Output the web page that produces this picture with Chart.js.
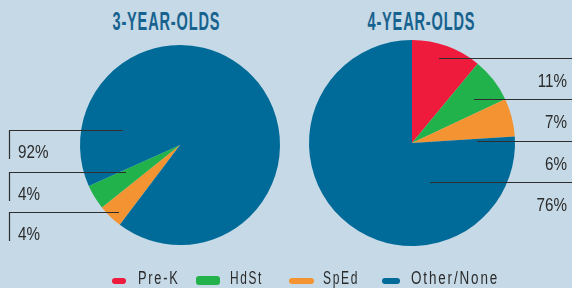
<!DOCTYPE html>
<html>
<head>
<meta charset="utf-8">
<script src="https://cdn.jsdelivr.net/npm/chart.js@4/dist/chart.umd.min.js"></script>
<style>
  html, body { margin: 0; padding: 0; }
  body { width: 572px; height: 288px; background: #c5d9e6; position: relative; overflow: hidden; }
  canvas { position: absolute; left: 0; top: 0; }
  .title { position: absolute; top: 6px; font-family: "Liberation Sans", Arial, sans-serif; font-weight: bold; font-size: 26px; line-height: 30px; color: #17628f; letter-spacing: 1.5px; white-space: nowrap; transform-origin: 50% 50%; }
  .leg { position: absolute; top: 267px; font-family: "Liberation Sans", Arial, sans-serif; font-size: 18px; color: #2b2b2b; letter-spacing: 2.5px; white-space: nowrap; line-height: 22px; transform-origin: 0 50%; }
  .sw { position: absolute; height: 6px; border-radius: 3px; top: 278px; }
</style>
</head>
<body>
<div class="title" id="t1"></div>
<div class="title" id="t2"></div>
<canvas id="c1" width="572" height="288"></canvas>
<canvas id="c2" width="572" height="288"></canvas>
<div id="legend"></div>
<script>
// ---- data ----
const categories = ["Pre-K", "HdSt", "SpEd", "Other/None"];
const values3 = [0, 4, 4, 92];
const values4 = [11, 7, 6, 76];
const titles = ["3-YEAR-OLDS", "4-YEAR-OLDS"];
const colors = ["#ee1b3d", "#22b24c", "#f39331", "#006a98"];

// ---- layout (not data) ----
function fit(el, targetW, centerX, leftX) {
  const w = el.offsetWidth;
  const s = targetW / w;
  if (centerX !== undefined) el.style.left = (centerX - w / 2) + 'px';
  if (leftX !== undefined) el.style.left = leftX + 'px';
  el.style.transform = 'scaleX(' + s + ')';
}
const t1 = document.getElementById('t1'), t2 = document.getElementById('t2');
t1.textContent = titles[0];
t2.textContent = titles[1];
fit(t1, 108, 166.5);
fit(t2, 108, 421.5);

// left pie draws slices in a different clockwise order
const order3 = [2, 1, 3, 0];
const order4 = [0, 1, 2, 3];

const labelLayout3 = { // by category index
  3: { y: 130, x: 123 },
  1: { y: 172, x: 126 },
  2: { y: 212, x: 119 }
};
const labelLayout4 = {
  0: { y: 58, x: 439 },
  1: { y: 99, x: 474 },
  2: { y: 141, x: 477 },
  3: { y: 182, x: 430 }
};

function labelPlugin(side, layout, values) {
  return {
    id: 'leaders' + side,
    afterDraw(chart) {
      const ctx = chart.ctx;
      ctx.save();
      ctx.strokeStyle = '#2e2e2e';
      ctx.lineWidth = 1.2;
      ctx.fillStyle = '#2b2b2b';
      ctx.font = '19px "Liberation Sans", Arial, sans-serif';
      ctx.textBaseline = 'alphabetic';
      const sx = 0.8;
      Object.keys(layout).forEach(k => {
        const L = layout[k];
        const txt = values[k] + '%';
        ctx.beginPath();
        if (side === 'left') {
          ctx.moveTo(L.x, L.y + 0.5);
          ctx.lineTo(9.5, L.y + 0.5);
          ctx.lineTo(9.5, L.y + 29);
          ctx.stroke();
          ctx.save();
          ctx.translate(18, L.y + 28);
          ctx.scale(sx, 1);
          ctx.textAlign = 'left';
          ctx.fillText(txt, 0, 0);
          ctx.restore();
        } else {
          ctx.moveTo(L.x, L.y + 0.5);
          ctx.lineTo(572, L.y + 0.5);
          ctx.stroke();
          ctx.save();
          ctx.translate(567, L.y + 29);
          ctx.scale(sx, 1);
          ctx.textAlign = 'right';
          ctx.fillText(txt, 0, 0);
          ctx.restore();
        }
      });
      ctx.restore();
    }
  };
}

function makePie(id, values, order, rotation, padding, plugin) {
  return new Chart(document.getElementById(id), {
    type: 'pie',
    data: {
      labels: order.map(i => categories[i]),
      datasets: [{
        data: order.map(i => values[i]),
        backgroundColor: order.map(i => colors[i]),
        borderWidth: 0
      }]
    },
    options: {
      responsive: false,
      devicePixelRatio: 1,
      animation: false,
      rotation: rotation,
      layout: { padding: padding },
      plugins: { legend: { display: false }, tooltip: { enabled: false }, title: { display: false } }
    },
    plugins: [plugin]
  });
}

makePie('c1', values3, order3, 217, { left: 80, right: 292, top: 45, bottom: 43 }, labelPlugin('left', labelLayout3, values3));
makePie('c2', values4, order4, 0, { left: 309, right: 57, top: 40, bottom: 42 }, labelPlugin('right', labelLayout4, values4));

// ---- legend ----
const legSwatchX = [112, 196, 289, 382];
const legSwatchW = [14, 24, 25, 18];
const legTextX = [138, 230, 323, 411];
const legTextW = [42, 33, 36, 88];
const legend = document.getElementById('legend');
categories.forEach((c, i) => {
  const s = document.createElement('div');
  s.className = 'sw';
  s.style.left = legSwatchX[i] + 'px';
  s.style.width = legSwatchW[i] + 'px';
  s.style.background = colors[i];
  if (i === 1) { s.style.height = '9px'; s.style.top = '276px'; }
  legend.appendChild(s);
  const t = document.createElement('div');
  t.className = 'leg';
  t.textContent = c;
  legend.appendChild(t);
  fit(t, legTextW[i], undefined, legTextX[i]);
});
</script>
</body>
</html>
